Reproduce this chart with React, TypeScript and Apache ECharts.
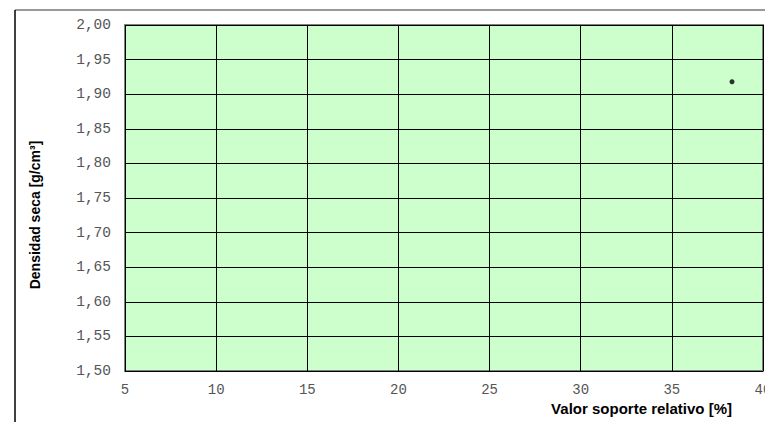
import React, { useEffect, useRef } from "react";
import * as echarts from "echarts";

const xTicks = [5, 10, 15, 20, 25, 30, 35, 40];
const yTicks = [1.5, 1.55, 1.6, 1.65, 1.7, 1.75, 1.8, 1.85, 1.9, 1.95, 2.0];
const points: [number, number][] = [[38.3, 1.918]];
const xTitle = "Valor soporte relativo [%]";
const yTitle = "Densidad seca [g/cm³]";

export default function App() {
  const ref = useRef<HTMLDivElement>(null);
  useEffect(() => {
    document.body.style.margin = "0";
    const chart = echarts.init(ref.current!, null, { renderer: "svg" });
    chart.setOption({
      animation: false,
      backgroundColor: "#ffffff",
      grid: {
        left: 125,
        top: 25,
        right: 2,
        bottom: 51,
        show: true,
        backgroundColor: "#ccffcc",
        borderColor: "#808080",
        borderWidth: 2,
        outerBoundsMode: "none",
        containLabel: false,
      },
      xAxis: {
        type: "value",
        min: xTicks[0],
        max: xTicks[xTicks.length - 1],
        interval: 5,
        axisLine: { show: false },
        axisTick: { show: false },
        axisLabel: {
          color: "#555",
          fontFamily: "Liberation Mono",
          fontSize: 14,
          margin: 12,
          showMaxLabel: true,
          showMinLabel: true,
          hideOverlap: false,
        },
        splitLine: { show: true, lineStyle: { color: "#000", width: 1 } },
      },
      yAxis: {
        type: "value",
        min: yTicks[0],
        max: yTicks[yTicks.length - 1],
        interval: 0.05,
        axisLine: { show: false },
        axisTick: { show: false },
        axisLabel: {
          color: "#555",
          fontFamily: "Liberation Mono",
          fontSize: 14.5,
          margin: 14,
          formatter: (v: number) => v.toFixed(2).replace(".", ","),
        },
        splitLine: { show: true, lineStyle: { color: "#000", width: 1 } },
      },
      series: [
        {
          type: "scatter",
          data: points,
          symbol: "circle",
          symbolSize: 5,
          itemStyle: { color: "#000" },
        },
      ],
      graphic: [
        { type: "line", shape: { x1: 15, y1: 10, x2: 765, y2: 10 }, style: { stroke: "#777", lineWidth: 1.5 } },
        { type: "line", shape: { x1: 15, y1: 10, x2: 15, y2: 422 }, style: { stroke: "#000", lineWidth: 1.5 } },
        {
          type: "text",
          x: 732,
          y: 408,
          style: {
            text: xTitle,
            align: "right",
            verticalAlign: "middle",
            fontFamily: "Liberation Sans",
            fontWeight: "bold",
            fontSize: 15,
            fill: "#000",
          },
        },
        {
          type: "text",
          x: 35,
          y: 215,
          rotation: Math.PI / 2,
          style: {
            text: yTitle,
            align: "center",
            verticalAlign: "middle",
            fontFamily: "Liberation Sans",
            fontWeight: "bold",
            fontSize: 14,
            fill: "#000",
          },
        },
      ],
    });
    return () => chart.dispose();
  }, []);
  return <div ref={ref} style={{ width: 765, height: 422 }} />;
}
